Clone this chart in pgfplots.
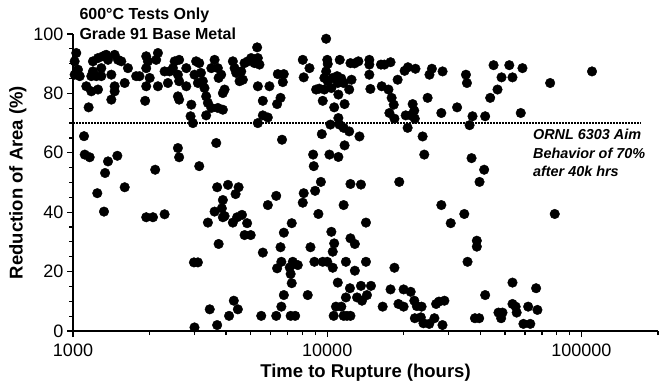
\documentclass[border=0pt]{standalone}
\usepackage{fontspec}
\setmainfont{Liberation Sans}
\usepackage{pgfplots}
\pgfplotsset{compat=1.18}
\usepackage{pgfplotstable}

\pgfplotstableread{
x y
1030 93.6
1015 90.8
1046 88.0
1063 85.8
1015 86.3
1198 90.8
1254 91.9
1312 92.5
1373 91.3
1350 93.0
1458 93.0
1503 91.3
1549 90.8
1645 88.5
1198 87.4
1180 85.8
1235 85.8
1292 85.8
1292 88.5
1128 82.4
1180 80.7
1254 81.3
1152 75.3
1415 86.3
1458 82.4
1458 80.7
1415 77.9
1597 83.5
1772 85.8
1826 85.8
1941 92.5
1971 90.8
1941 88.5
2003 85.2
1941 82.4
1922 77.5
2158 93.6
2124 91.3
2158 82.4
2362 83.5
2292 87.4
2398 87.4
2472 88.5
2511 90.8
2615 91.3
2586 86.3
2615 84.1
2586 79.0
2615 77.9
2790 88.5
2790 82.4
3050 90.8
3005 86.3
2920 76.2
2900 72.3
2962 70.0
1105 65.6
1112 59.4
1163 58.5
1373 57.1
1494 59.0
1337 53.2
2105 54.3
2586 61.6
2615 58.5
3137 55.5
1246 46.4
1324 40.2
1597 48.4
1941 38.3
2063 38.3
2292 39.3
2990 23.1
3099 23.1
3005 1.2
5300 95.5
3137 90.2
3186 86.9
3242 84.1
3099 83.5
3290 81.8
3340 79.0
3393 76.8
3500 75.1
3340 72.6
3605 91.3
3500 88.5
3714 88.5
3827 86.3
3740 85.2
3947 81.3
3886 80.1
3714 75.1
3886 74.5
4253 90.8
4320 88.5
4385 86.9
4520 84.1
4656 84.6
4590 87.4
4727 90.2
4872 90.8
5020 91.9
5170 90.2
5333 91.9
5413 89.7
5333 82.4
5925 82.4
5579 77.5
6390 86.5
6746 86.5
6686 83.8
6550 78.5
6350 76.4
5579 72.6
5838 71.9
5333 70.0
8012 91.3
8515 88.5
8080 85.4
9040 81.3
3660 63.3
6640 64.4
8800 59.4
8850 55.5
3690 48.4
4070 49.2
4480 48.4
4360 46.1
3886 44.1
3605 40.2
3850 41.3
3886 38.3
3947 38.7
3393 36.5
4253 36.5
4420 38.3
4620 39.1
4840 36.3
4730 32.3
5000 32.3
3740 29.3
5840 42.4
6300 45.5
7250 36.3
6750 33.1
6550 28.2
5580 26.4
6600 23.3
6350 21.1
7320 23.3
7120 21.4
7180 19.2
7250 16.1
7660 22.2
8010 43.2
8080 46.4
8960 47.2
9230 39.4
8590 28.2
8900 23.3
6750 12.1
8380 12.1
6600 8.2
4290 10.2
4450 7.3
3450 7.3
4110 5.1
3690 2.0
5500 5.1
6300 5.1
7180 5.1
7480 5.1
9900 98.4
10000 91.3
10045 89.9
11200 91.3
12340 90.2
12800 90.1
13260 90.8
9900 87.4
9740 85.2
10045 84.1
10510 85.2
10940 85.8
11360 85.0
11000 83.5
11600 83.5
12200 81.3
12460 84.6
9300 81.6
9740 81.3
10380 81.8
9600 77.5
10650 75.3
11700 76.4
11060 79.6
11060 71.7
11170 69.5
10290 69.5
11600 68.4
12200 67.2
9520 66.3
13390 65.5
11700 62.5
10200 59.4
11060 58.6
14640 91.3
14640 89.7
14640 86.3
14780 81.5
16270 89.7
16780 89.7
17740 90.5
16380 82.4
17410 81.3
17920 78.5
18260 76.2
17560 73.4
18380 71.5
18920 84.6
20150 87.6
20770 88.8
22230 88.3
21670 76.4
21990 74.2
20350 72.6
21290 72.6
22100 71.5
20710 68.4
23720 65.5
24080 59.4
24820 78.5
25240 86.3
25800 88.3
28100 73.4
9440 50.2
12340 49.5
13570 49.3
19200 50.2
11600 42.4
14200 36.5
28100 42.4
10380 33.4
10650 29.5
10510 26.7
12340 31.2
12840 29.3
9600 23.3
10000 23.3
10510 21.3
11840 23.3
14200 23.3
12840 20.3
18380 21.3
11000 16.3
12280 14.4
13570 15.2
14860 15.2
14330 12.1
11840 11.3
13100 11.3
13700 10.2
10820 8.2
11360 8.2
10600 5.1
11600 5.1
11950 5.1
12340 5.1
16520 8.2
17740 14.0
19970 14.0
21290 13.2
19060 9.1
19970 8.2
22000 10.2
22500 8.4
23500 8.2
22100 4.3
23340 4.6
23900 2.6
25190 2.4
26400 4.3
26800 9.1
27500 9.9
28900 10.2
28400 2.0
34600 39.4
30600 36.3
78500 39.4
38760 30.4
38760 28.4
35630 23.3
53530 16.3
66300 14.4
41800 12.1
38100 4.3
39600 4.3
47150 6.2
48900 6.2
48300 4.3
53530 9.1
55100 8.2
55600 6.2
59100 2.4
62900 2.4
61700 8.2
67100 7.1
28420 87.4
35120 86.3
35440 83.5
45100 89.5
52000 89.5
58600 88.5
48470 85.4
53530 85.4
46740 81.3
43750 78.5
110000 87.4
75300 83.5
32420 75.3
37280 72.3
41800 72.3
57700 73.4
36300 69.3
36950 58.2
41420 54.3
39720 50.2
}\ra

\begin{document}
\begin{tikzpicture}
\begin{axis}[
  at={(0,0)}, anchor=south west,
  scale only axis,
  width=585pt, height=297pt,
  xmode=log,
  xmin=1000, xmax=200000,
  ymin=0, ymax=100,
  axis lines=left,
  axis line style={line width=1.3pt, -},
  xtick={1000,10000,100000},
  xticklabels={1000,10000,100000},
  minor xtick={2000,3000,4000,5000,6000,7000,8000,9000,20000,30000,40000,50000,60000,70000,80000,90000,200000},
  ytick={0,20,40,60,80,100},
  yticklabels={0,20,40,60,80,100},
  minor ytick={5,10,15,25,30,35,45,50,55,65,70,75,85,90,95},
  tick align=outside,
  major tick length=6pt, minor tick length=4pt,
  every tick/.style={line width=1.2pt, black},
  ticklabel style={font=\fontsize{18}{18}\selectfont},
  xticklabel style={yshift=-3pt},
  xlabel={Time to Rupture (hours)},
  ylabel={Reduction of Area (\%)},
  label style={font=\fontsize{18.5}{18.5}\selectfont\bfseries},
  xlabel style={yshift=-1pt},
  clip=false,
]
\addplot[black, line width=1.5pt, dash pattern=on 1.5pt off 1.5pt] coordinates {(1000,70) (172000,70)};
\addplot[only marks, mark=*, mark size=4.8pt, black, mark options={fill=black}] table {\ra};
\node[anchor=base west, xshift=3pt, yshift=14pt, font=\fontsize{16}{16}\selectfont\bfseries] at (rel axis cs:0,1) {600°C Tests Only};
\node[anchor=base west, xshift=3pt, yshift=-6pt, font=\fontsize{16}{16}\selectfont\bfseries] at (rel axis cs:0,1) {Grade 91 Base Metal};
\node[anchor=base west, font=\fontsize{14.4}{14.4}\selectfont\bfseries\itshape] at (axis cs:62500,64.6) {ORNL 6303 Aim};
\node[anchor=base west, font=\fontsize{14.4}{14.4}\selectfont\bfseries\itshape] at (axis cs:62500,58.2) {Behavior of 70\%};
\node[anchor=base west, font=\fontsize{14.4}{14.4}\selectfont\bfseries\itshape] at (axis cs:62500,51.9) {after 40k hrs};
\end{axis}
\pgfresetboundingbox
\useasboundingbox (-73pt,-57pt) rectangle (586pt,331pt);
\end{tikzpicture}
\end{document}
